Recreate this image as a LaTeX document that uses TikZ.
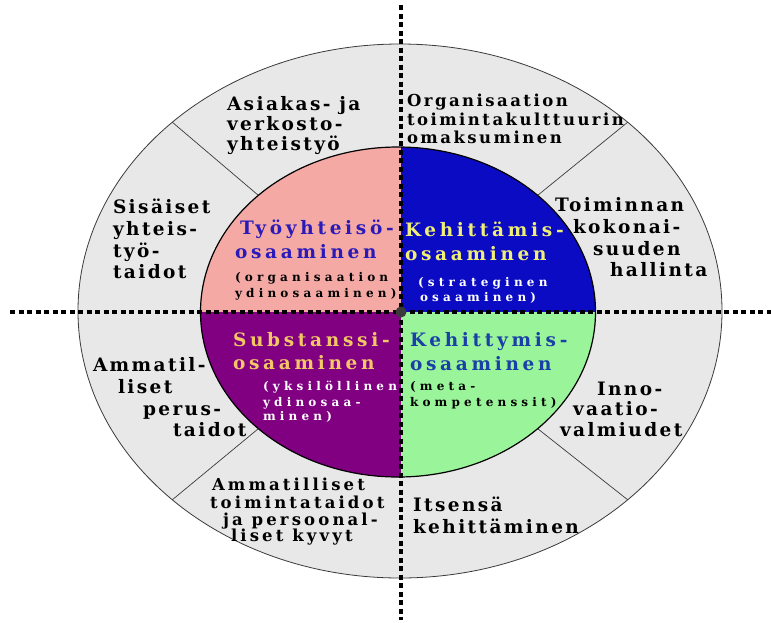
\documentclass[tikz,border=0pt]{standalone}
\usepackage{fontspec}
\setmainfont{DejaVu Serif}
\definecolor{ringgrey}{HTML}{E8E8E8}
\definecolor{ringline}{HTML}{3A3A3A}
\definecolor{pinkq}{HTML}{F4A9A5}
\definecolor{blueq}{HTML}{0B0BC4}
\definecolor{purpleq}{HTML}{810082}
\definecolor{greenq}{HTML}{9AF59A}
\definecolor{headblue}{HTML}{2A1AB8}
\definecolor{headyellow}{HTML}{EFEF78}
\definecolor{headorange}{HTML}{F2C766}
\definecolor{headblueb}{HTML}{1A40A8}
\definecolor{dotgrey}{HTML}{3A3A3A}
\tikzset{
  lbl/.style={anchor=base west, inner sep=0pt, outer sep=0pt},
  outerlbl/.style={lbl, font=\fontsize{18.5}{19}\selectfont\addfontfeatures{LetterSpace=13}\bfseries},
  smallouter/.style={lbl, font=\fontsize{16.5}{17}\selectfont\addfontfeatures{LetterSpace=15}\bfseries},
  tightouter/.style={lbl, font=\fontsize{16.5}{17}\selectfont\addfontfeatures{LetterSpace=19}\bfseries},
  headlbl/.style={lbl, font=\fontsize{18.5}{19}\selectfont\addfontfeatures{LetterSpace=20}\bfseries},
  sublbl/.style={lbl, font=\fontsize{12}{13}\selectfont\addfontfeatures{LetterSpace=35}\bfseries},
  divider/.style={draw=ringline, line width=0.7pt},
  axisline/.style={draw=black, line width=4pt, dash pattern=on 5pt off 3.5pt}
}
\begin{document}
\begin{tikzpicture}[x=1pt,y=-1pt]
\useasboundingbox (0,0) rectangle (771,622);
% outer ring
\fill[ringgrey, draw=ringline, line width=0.8pt] (400,311) ellipse [x radius=322pt, y radius=267pt];
% inner quadrants
\begin{scope}
  \clip (398,312) ellipse [x radius=197.5pt, y radius=165pt];
  \fill[pinkq] (190,140) rectangle (401,312);
  \fill[blueq] (401,140) rectangle (610,312);
  \fill[purpleq] (190,312) rectangle (401,490);
  \fill[greenq] (401,312) rectangle (610,490);
\end{scope}
\draw[black, line width=1.2pt] (398,312) ellipse [x radius=197.5pt, y radius=165pt];
% dividers
\coordinate (oUL) at (172.3,122.2);
\coordinate (iUL) at (258.3,195.3);
\coordinate (oUR) at (627.7,122.2);
\coordinate (iUR) at (537.7,195.3);
\coordinate (oLL) at (172.3,499.8);
\coordinate (iLL) at (258.3,428.7);
\coordinate (oLR) at (627.7,499.8);
\coordinate (iLR) at (537.7,428.7);
\draw[divider] (oUL) -- (iUL);
\draw[divider] (oUR) -- (iUR);
\draw[divider] (oLL) -- (iLL);
\draw[divider] (oLR) -- (iLR);
% axes
\coordinate (hL) at (10,312);
\coordinate (hR) at (771,312);
\coordinate (vT) at (401,5);
\coordinate (vB) at (401,620);
\draw[axisline] (hL) -- (hR);
\draw[axisline] (vT) -- (vB);
\node[circle, fill=dotgrey, minimum size=11pt, inner sep=0pt] (ctr) at (401,312) {};
% outer labels
\node[outerlbl] (a1) at (227,110) {Asiakas- ja};
\node[outerlbl] (a2) at (227,130) {verkosto-};
\node[outerlbl] (a3) at (227,150) {yhteistyö};
\node[outerlbl] (b1) at (113,213) {Sisäiset};
\node[outerlbl] (b2) at (113,235) {yhteis-};
\node[outerlbl] (b3) at (113,257) {työ-};
\node[outerlbl] (b4) at (113,278) {taidot};
\node[smallouter] (c1) at (407,106.7) {Organisaation};
\node[smallouter] (c2) at (407,125) {toimintakulttuurin};
\node[smallouter] (c3) at (407,143) {omaksuminen};
\node[outerlbl] (d1) at (555,211.7) {Toiminnan};
\node[outerlbl] (d2) at (573,233) {kokonai-};
\node[outerlbl] (d3) at (593,255) {suuden};
\node[outerlbl] (d4) at (610,276.7) {hallinta};
\node[outerlbl] (e1) at (93,371.7) {Ammatil-};
\node[outerlbl] (e2) at (118,393) {liset};
\node[outerlbl] (e3) at (143,415) {perus-};
\node[outerlbl] (e4) at (173,436.7) {taidot};
\node[tightouter] (f1) at (212,490) {Ammatilliset};
\node[tightouter] (f2) at (210,508) {toimintataidot};
\node[tightouter] (f3) at (223,525) {ja persoonal-};
\node[tightouter] (f4) at (231,541.7) {liset kyvyt};
\node[outerlbl] (g1) at (597,395) {Inno-};
\node[outerlbl] (g2) at (573,415) {vaatio-};
\node[outerlbl] (g3) at (560,436.7) {valmiudet};
\node[outerlbl] (h1) at (413,511.7) {Itsensä};
\node[outerlbl] (h2) at (413,533.3) {kehittäminen};
% inner labels
\node[headlbl, text=headblue] (p1) at (240,234.3) {Työyhteisö-};
\node[headlbl, text=headblue] (p2) at (235,258.3) {osaaminen};
\node[sublbl, text=black] (p3) at (235,281.7) {(organisaation};
\node[sublbl, text=black] (p4) at (235,297) {ydinosaaminen)};
\node[headlbl, text=headyellow] (q1) at (405,236.7) {Kehittämis-};
\node[headlbl, text=headyellow] (q2) at (405,260) {osaaminen};
\node[sublbl, text=white] (q3) at (418,286) {(strateginen};
\node[sublbl, text=white] (q4) at (420,301.7) {osaaminen)};
\node[headlbl, text=headorange] (r1) at (233,346) {Substanssi-};
\node[headlbl, text=headorange] (r2) at (233,369) {osaaminen};
\node[sublbl, text=white] (r3) at (263,390) {(yksilöllinen};
\node[sublbl, text=white] (r4) at (263,406) {ydinosaa-};
\node[sublbl, text=white] (r5) at (263,420) {minen)};
\node[headlbl, text=headblueb] (s1) at (410,346.7) {Kehittymis-};
\node[headlbl, text=headblueb] (s2) at (410,370) {osaaminen};
\node[sublbl, text=black] (s3) at (410,390) {(meta-};
\node[sublbl, text=black] (s4) at (410,406.7) {kompetenssit)};
\end{tikzpicture}
\end{document}
